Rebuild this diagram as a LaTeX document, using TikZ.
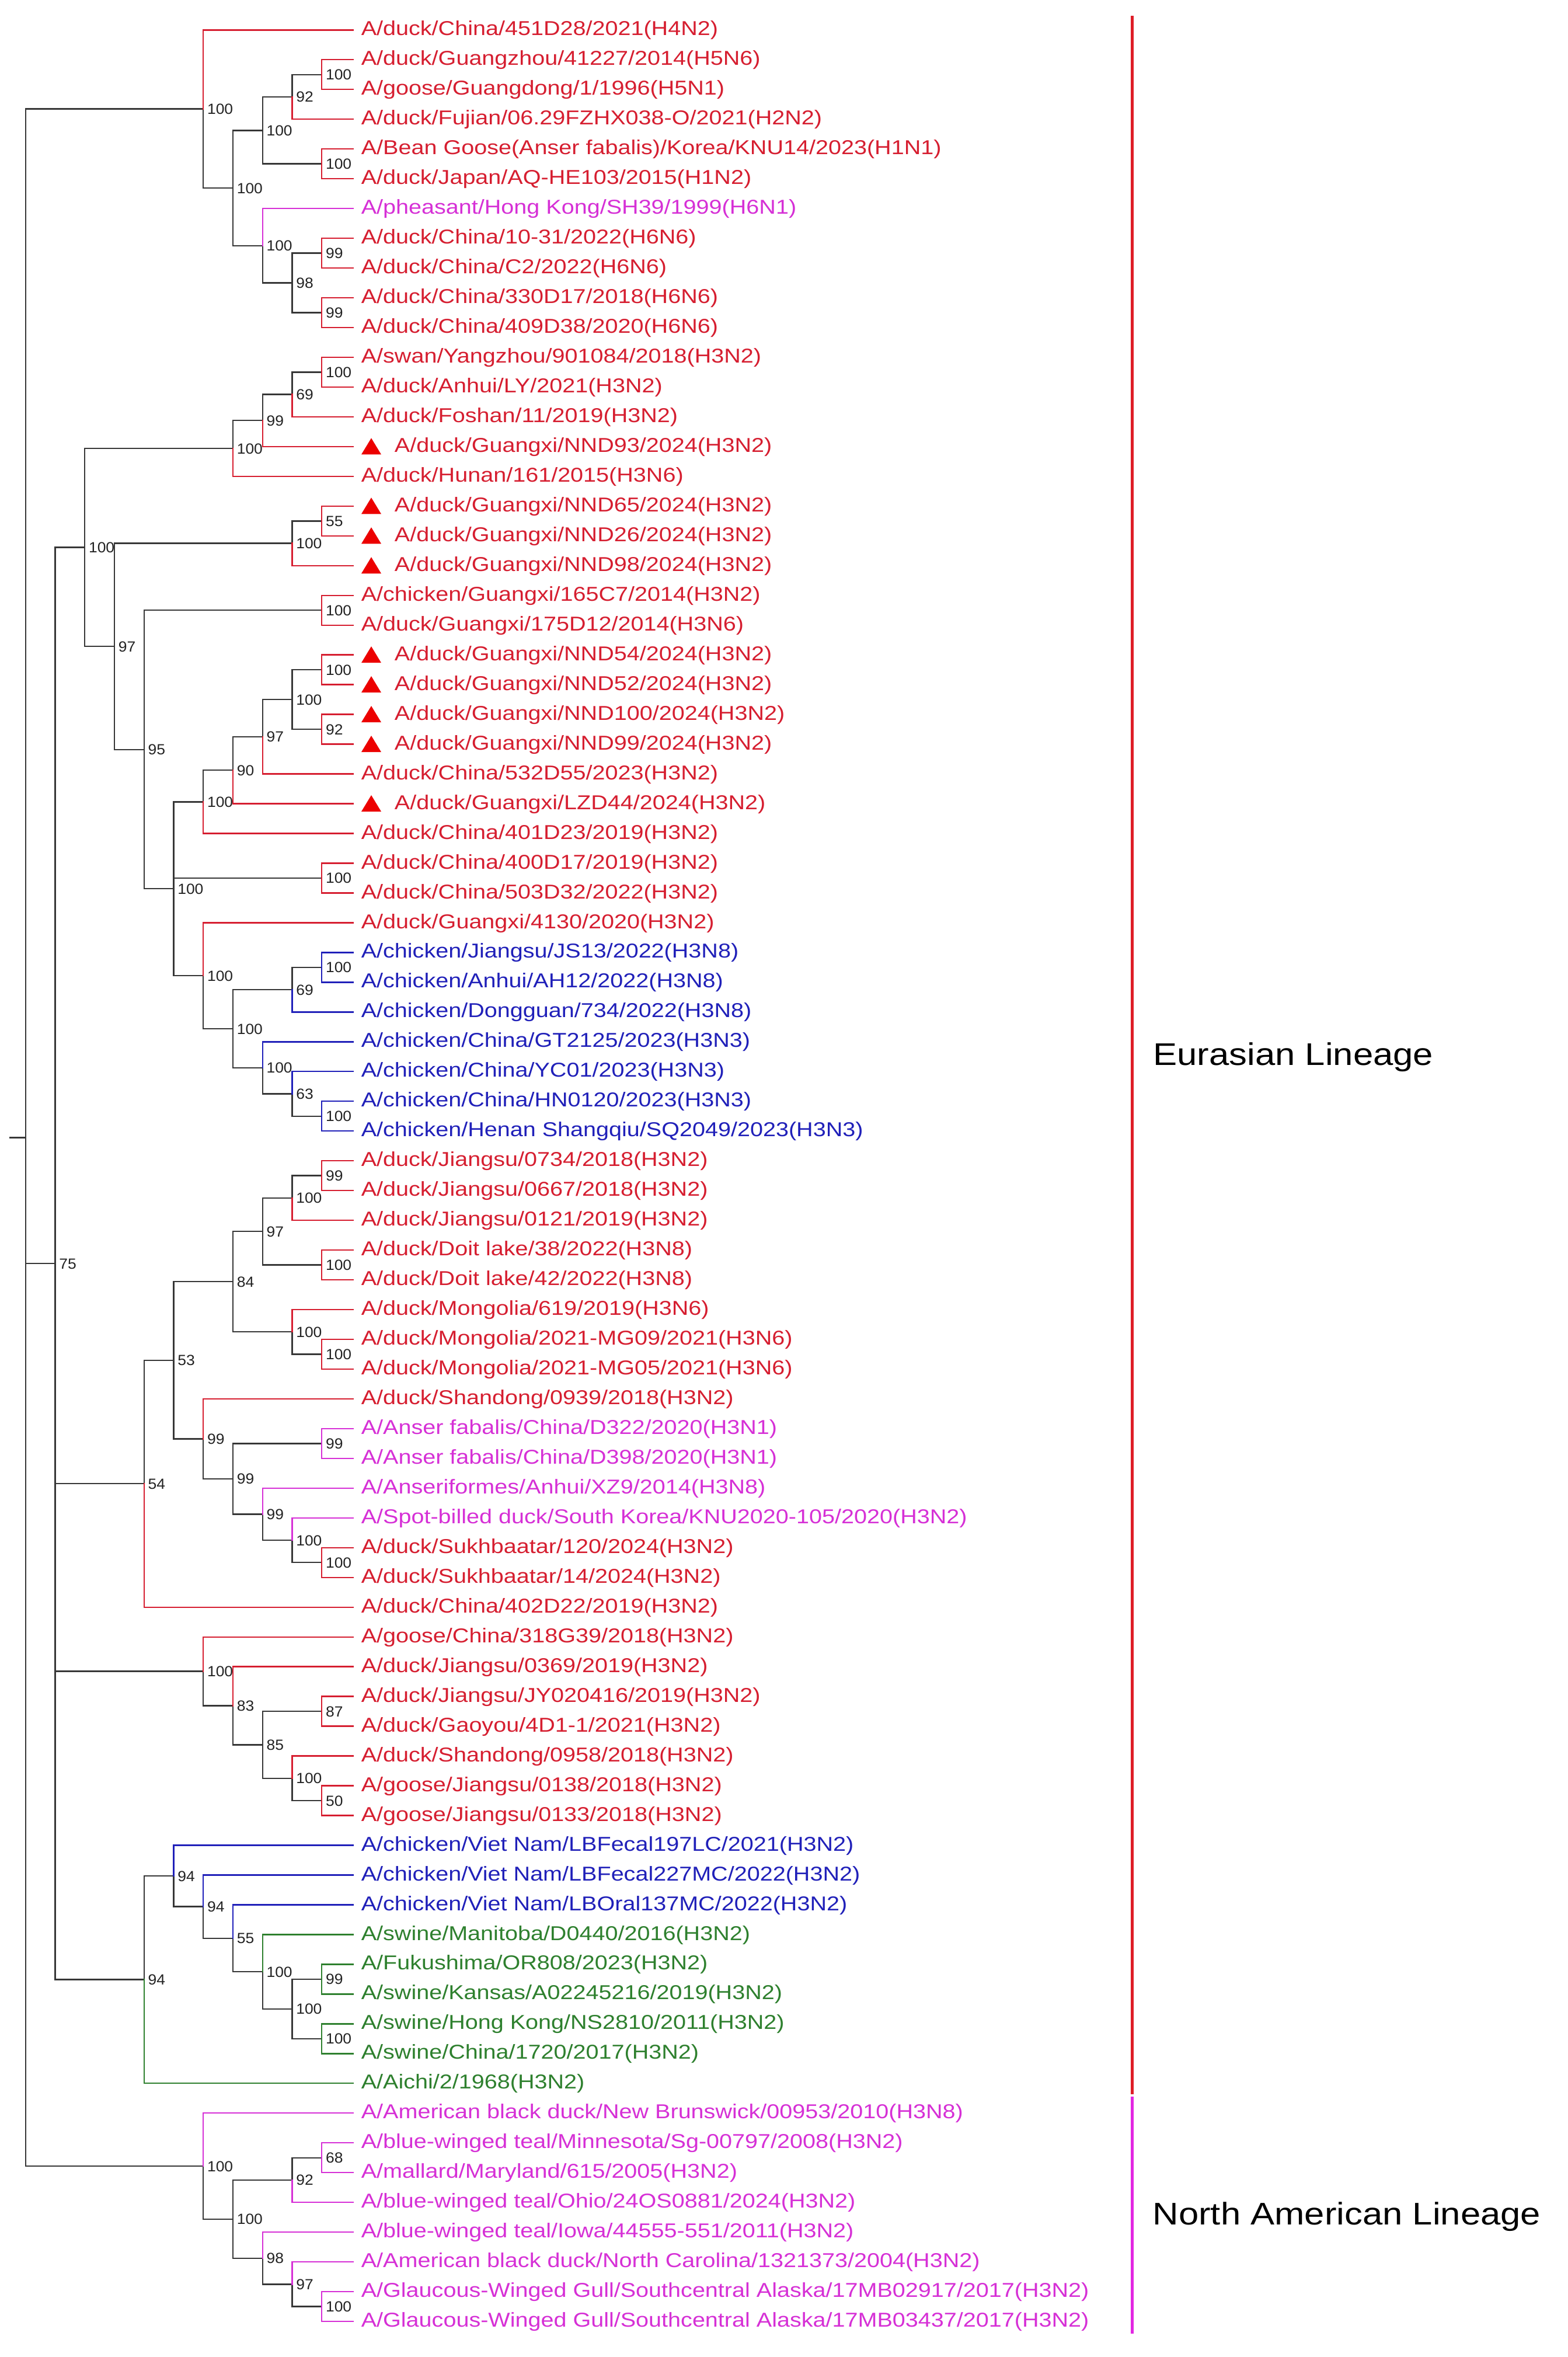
\documentclass[tikz,border=0pt]{standalone}
\usepackage{fontspec}
\setmainfont{Liberation Sans}
\newfontfamily\leaffont[FakeStretch=1.15]{Liberation Sans}
\newfontfamily\bsfont[FakeStretch=1.05]{Liberation Sans}
\definecolor{cred}{RGB}{214,30,48}
\definecolor{cmag}{RGB}{214,48,214}
\definecolor{cblue}{RGB}{32,32,185}
\definecolor{cgreen}{RGB}{46,128,46}
\definecolor{cblk}{RGB}{55,55,55}
\definecolor{bstext}{RGB}{35,35,35}
\definecolor{tred}{RGB}{236,0,0}
\definecolor{barred}{RGB}{222,30,40}
\definecolor{barmag}{RGB}{226,40,226}
\tikzset{
  br/.style={line width=0.6pt, line cap=rect},
  lf/.style={anchor=base west, inner sep=0pt, yshift=-2.4pt, font=\leaffont\fontsize{8.6}{10}\selectfont},
  bs/.style={anchor=base west, inner sep=0pt, xshift=1.5pt, yshift=-2.25pt, text=bstext, font=\bsfont\fontsize{6.3}{7}\selectfont},
  tri/.style={fill=tred},
  lin/.style={anchor=base west, inner sep=0pt, font=\leaffont\fontsize{13.4}{15}\selectfont, text=black},
  linbar/.style={line width=1.2pt}
}
\newcommand\myleaf[3]{\coordinate (t#1) at (11.06,#1); \node[lf,text=#2] (l#1) at (11.315,#1) {#3};}
\newcommand\mytleaf[3]{\coordinate (t#1) at (11.06,#1); \fill[tri] ({11.335},{#1+0.265}) -- ({11.67},{#1-0.285}) -- ({12.005},{#1+0.265}) -- cycle; \node[lf,text=#2] (l#1) at (12.44,#1) {#3};}
\newcommand\inode[4]{\coordinate (#1) at (#2,#3); \node[bs] (b#1) at (#1) {#4};}
\newcommand\mybr[3]{\draw[br,#1] (#2) |- (#3);}
\begin{document}
\begin{tikzpicture}[x=12.6875pt, y=-12.7425pt]
\fill[white] (-0.8621,-0.0065) rectangle (52.064,79.197);
\useasboundingbox (-0.8621,-0.0065) rectangle (52.064,79.197);

% leaves
\myleaf{1}{cred}{A/duck/China/451D28/2021(H4N2)}
\myleaf{2}{cred}{A/duck/Guangzhou/41227/2014(H5N6)}
\myleaf{3}{cred}{A/goose/Guangdong/1/1996(H5N1)}
\myleaf{4}{cred}{A/duck/Fujian/06.29FZHX038-O/2021(H2N2)}
\myleaf{5}{cred}{A/Bean Goose(Anser fabalis)/Korea/KNU14/2023(H1N1)}
\myleaf{6}{cred}{A/duck/Japan/AQ-HE103/2015(H1N2)}
\myleaf{7}{cmag}{A/pheasant/Hong Kong/SH39/1999(H6N1)}
\myleaf{8}{cred}{A/duck/China/10-31/2022(H6N6)}
\myleaf{9}{cred}{A/duck/China/C2/2022(H6N6)}
\myleaf{10}{cred}{A/duck/China/330D17/2018(H6N6)}
\myleaf{11}{cred}{A/duck/China/409D38/2020(H6N6)}
\myleaf{12}{cred}{A/swan/Yangzhou/901084/2018(H3N2)}
\myleaf{13}{cred}{A/duck/Anhui/LY/2021(H3N2)}
\myleaf{14}{cred}{A/duck/Foshan/11/2019(H3N2)}
\mytleaf{15}{cred}{A/duck/Guangxi/NND93/2024(H3N2)}
\myleaf{16}{cred}{A/duck/Hunan/161/2015(H3N6)}
\mytleaf{17}{cred}{A/duck/Guangxi/NND65/2024(H3N2)}
\mytleaf{18}{cred}{A/duck/Guangxi/NND26/2024(H3N2)}
\mytleaf{19}{cred}{A/duck/Guangxi/NND98/2024(H3N2)}
\myleaf{20}{cred}{A/chicken/Guangxi/165C7/2014(H3N2)}
\myleaf{21}{cred}{A/duck/Guangxi/175D12/2014(H3N6)}
\mytleaf{22}{cred}{A/duck/Guangxi/NND54/2024(H3N2)}
\mytleaf{23}{cred}{A/duck/Guangxi/NND52/2024(H3N2)}
\mytleaf{24}{cred}{A/duck/Guangxi/NND100/2024(H3N2)}
\mytleaf{25}{cred}{A/duck/Guangxi/NND99/2024(H3N2)}
\myleaf{26}{cred}{A/duck/China/532D55/2023(H3N2)}
\mytleaf{27}{cred}{A/duck/Guangxi/LZD44/2024(H3N2)}
\myleaf{28}{cred}{A/duck/China/401D23/2019(H3N2)}
\myleaf{29}{cred}{A/duck/China/400D17/2019(H3N2)}
\myleaf{30}{cred}{A/duck/China/503D32/2022(H3N2)}
\myleaf{31}{cred}{A/duck/Guangxi/4130/2020(H3N2)}
\myleaf{32}{cblue}{A/chicken/Jiangsu/JS13/2022(H3N8)}
\myleaf{33}{cblue}{A/chicken/Anhui/AH12/2022(H3N8)}
\myleaf{34}{cblue}{A/chicken/Dongguan/734/2022(H3N8)}
\myleaf{35}{cblue}{A/chicken/China/GT2125/2023(H3N3)}
\myleaf{36}{cblue}{A/chicken/China/YC01/2023(H3N3)}
\myleaf{37}{cblue}{A/chicken/China/HN0120/2023(H3N3)}
\myleaf{38}{cblue}{A/chicken/Henan Shangqiu/SQ2049/2023(H3N3)}
\myleaf{39}{cred}{A/duck/Jiangsu/0734/2018(H3N2)}
\myleaf{40}{cred}{A/duck/Jiangsu/0667/2018(H3N2)}
\myleaf{41}{cred}{A/duck/Jiangsu/0121/2019(H3N2)}
\myleaf{42}{cred}{A/duck/Doit lake/38/2022(H3N8)}
\myleaf{43}{cred}{A/duck/Doit lake/42/2022(H3N8)}
\myleaf{44}{cred}{A/duck/Mongolia/619/2019(H3N6)}
\myleaf{45}{cred}{A/duck/Mongolia/2021-MG09/2021(H3N6)}
\myleaf{46}{cred}{A/duck/Mongolia/2021-MG05/2021(H3N6)}
\myleaf{47}{cred}{A/duck/Shandong/0939/2018(H3N2)}
\myleaf{48}{cmag}{A/Anser fabalis/China/D322/2020(H3N1)}
\myleaf{49}{cmag}{A/Anser fabalis/China/D398/2020(H3N1)}
\myleaf{50}{cmag}{A/Anseriformes/Anhui/XZ9/2014(H3N8)}
\myleaf{51}{cmag}{A/Spot-billed duck/South Korea/KNU2020-105/2020(H3N2)}
\myleaf{52}{cred}{A/duck/Sukhbaatar/120/2024(H3N2)}
\myleaf{53}{cred}{A/duck/Sukhbaatar/14/2024(H3N2)}
\myleaf{54}{cred}{A/duck/China/402D22/2019(H3N2)}
\myleaf{55}{cred}{A/goose/China/318G39/2018(H3N2)}
\myleaf{56}{cred}{A/duck/Jiangsu/0369/2019(H3N2)}
\myleaf{57}{cred}{A/duck/Jiangsu/JY020416/2019(H3N2)}
\myleaf{58}{cred}{A/duck/Gaoyou/4D1-1/2021(H3N2)}
\myleaf{59}{cred}{A/duck/Shandong/0958/2018(H3N2)}
\myleaf{60}{cred}{A/goose/Jiangsu/0138/2018(H3N2)}
\myleaf{61}{cred}{A/goose/Jiangsu/0133/2018(H3N2)}
\myleaf{62}{cblue}{A/chicken/Viet Nam/LBFecal197LC/2021(H3N2)}
\myleaf{63}{cblue}{A/chicken/Viet Nam/LBFecal227MC/2022(H3N2)}
\myleaf{64}{cblue}{A/chicken/Viet Nam/LBOral137MC/2022(H3N2)}
\myleaf{65}{cgreen}{A/swine/Manitoba/D0440/2016(H3N2)}
\myleaf{66}{cgreen}{A/Fukushima/OR808/2023(H3N2)}
\myleaf{67}{cgreen}{A/swine/Kansas/A02245216/2019(H3N2)}
\myleaf{68}{cgreen}{A/swine/Hong Kong/NS2810/2011(H3N2)}
\myleaf{69}{cgreen}{A/swine/China/1720/2017(H3N2)}
\myleaf{70}{cgreen}{A/Aichi/2/1968(H3N2)}
\myleaf{71}{cmag}{A/American black duck/New Brunswick/00953/2010(H3N8)}
\myleaf{72}{cmag}{A/blue-winged teal/Minnesota/Sg-00797/2008(H3N2)}
\myleaf{73}{cmag}{A/mallard/Maryland/615/2005(H3N2)}
\myleaf{74}{cmag}{A/blue-winged teal/Ohio/24OS0881/2024(H3N2)}
\myleaf{75}{cmag}{A/blue-winged teal/Iowa/44555-551/2011(H3N2)}
\myleaf{76}{cmag}{A/American black duck/North Carolina/1321373/2004(H3N2)}
\myleaf{77}{cmag}{A/Glaucous-Winged Gull/Southcentral Alaska/17MB02917/2017(H3N2)}
\myleaf{78}{cmag}{A/Glaucous-Winged Gull/Southcentral Alaska/17MB03437/2017(H3N2)}

% internal node positions
\coordinate (R) at (0,38.21875);
\coordinate (rs) at (-0.527,38.21875);
\coordinate (a6) at (6,3.65625);
\coordinate (a7) at (7,6.3125);
\coordinate (a8) at (8,4.375);
\coordinate (a9) at (9,3.25);
\coordinate (a10) at (10,2.5);
\coordinate (a10b) at (10,5.5);
\coordinate (b8) at (8,8.25);
\coordinate (b9) at (9,9.5);
\coordinate (b10) at (10,8.5);
\coordinate (b10b) at (10,10.5);
\coordinate (z1) at (1,42.4521484);
\coordinate (c2) at (2,18.388671875);
\coordinate (c7) at (7,15.0625);
\coordinate (c8) at (8,14.125);
\coordinate (c9) at (9,13.25);
\coordinate (c10) at (10,12.5);
\coordinate (g3) at (3,21.71484375);
\coordinate (g9) at (9,18.25);
\coordinate (g10) at (10,17.5);
\coordinate (h4) at (4,25.1796875);
\coordinate (h10) at (10,20.5);
\coordinate (k5) at (5,29.859375);
\coordinate (k6) at (6,26.9375);
\coordinate (k7) at (7,25.875);
\coordinate (k8) at (8,24.75);
\coordinate (k9) at (9,23.5);
\coordinate (k10) at (10,22.5);
\coordinate (k10b) at (10,24.5);
\coordinate (m10) at (10,29.5);
\coordinate (p6) at (6,32.78125);
\coordinate (p7) at (7,34.5625);
\coordinate (p9) at (9,33.25);
\coordinate (p10) at (10,32.5);
\coordinate (q8) at (8,35.875);
\coordinate (q9) at (9,36.75);
\coordinate (q10) at (10,37.5);
\coordinate (d4) at (4,49.8515625);
\coordinate (d5) at (5,45.703125);
\coordinate (r7) at (7,43.0625);
\coordinate (r8) at (8,41.375);
\coordinate (r9) at (9,40.25);
\coordinate (r10) at (10,39.5);
\coordinate (r10b) at (10,42.5);
\coordinate (s9) at (9,44.75);
\coordinate (s10) at (10,45.5);
\coordinate (u6) at (6,48.34375);
\coordinate (u7) at (7,49.6875);
\coordinate (u8) at (8,50.875);
\coordinate (u9) at (9,51.75);
\coordinate (u10) at (10,48.5);
\coordinate (u10b) at (10,52.5);
\coordinate (e6) at (6,56.15625);
\coordinate (e7) at (7,57.3125);
\coordinate (e8) at (8,58.625);
\coordinate (e9) at (9,59.75);
\coordinate (e10) at (10,57.5);
\coordinate (e10b) at (10,60.5);
\coordinate (f4) at (4,66.515625);
\coordinate (f5) at (5,63.03125);
\coordinate (f6) at (6,64.0625);
\coordinate (f7) at (7,65.125);
\coordinate (f8) at (8,66.25);
\coordinate (f9) at (9,67.5);
\coordinate (f10) at (10,66.5);
\coordinate (f10b) at (10,68.5);
\coordinate (na6) at (6,72.78125);
\coordinate (na7) at (7,74.5625);
\coordinate (na8) at (8,75.875);
\coordinate (na9) at (9,73.25);
\coordinate (na9b) at (9,76.75);
\coordinate (na10) at (10,72.5);
\coordinate (na10b) at (10,77.5);

% black internal branches
\draw[br,cblk] (rs) -- (R);
\mybr{cblk}{R}{a6} \mybr{cblk}{R}{z1} \mybr{cblk}{R}{na6}
\mybr{cblk}{a6}{a7} \mybr{cblk}{a7}{a8} \mybr{cblk}{a7}{b8}
\mybr{cblk}{a8}{a9} \mybr{cblk}{a8}{a10b} \mybr{cblk}{a9}{a10}
\mybr{cblk}{b8}{b9} \mybr{cblk}{b9}{b10} \mybr{cblk}{b9}{b10b}
\mybr{cblk}{z1}{c2} \mybr{cblk}{z1}{d4} \mybr{cblk}{z1}{e6} \mybr{cblk}{z1}{f4}
\mybr{cblk}{c2}{c7} \mybr{cblk}{c2}{g3}
\mybr{cblk}{c7}{c8} \mybr{cblk}{c8}{c9} \mybr{cblk}{c9}{c10}
\mybr{cblk}{g3}{g9} \mybr{cblk}{g3}{h4} \mybr{cblk}{g9}{g10}
\mybr{cblk}{h4}{h10} \mybr{cblk}{h4}{k5}
\mybr{cblk}{k5}{k6} \mybr{cblk}{k5}{m10} \mybr{cblk}{k5}{p6}
\mybr{cblk}{k6}{k7} \mybr{cblk}{k7}{k8} \mybr{cblk}{k8}{k9}
\mybr{cblk}{k9}{k10} \mybr{cblk}{k9}{k10b}
\mybr{cblk}{p6}{p7} \mybr{cblk}{p7}{p9} \mybr{cblk}{p7}{q8}
\mybr{cblk}{p9}{p10} \mybr{cblk}{q8}{q9} \mybr{cblk}{q9}{q10}
\mybr{cblk}{d4}{d5} \mybr{cblk}{d5}{r7} \mybr{cblk}{d5}{u6}
\mybr{cblk}{r7}{r8} \mybr{cblk}{r7}{s9} \mybr{cblk}{r8}{r9} \mybr{cblk}{r8}{r10b}
\mybr{cblk}{r9}{r10} \mybr{cblk}{s9}{s10}
\mybr{cblk}{u6}{u7} \mybr{cblk}{u7}{u10} \mybr{cblk}{u7}{u8}
\mybr{cblk}{u8}{u9} \mybr{cblk}{u9}{u10b}
\mybr{cblk}{e6}{e7} \mybr{cblk}{e7}{e8} \mybr{cblk}{e8}{e10} \mybr{cblk}{e8}{e9}
\mybr{cblk}{e9}{e10b}
\mybr{cblk}{f4}{f5} \mybr{cblk}{f5}{f6} \mybr{cblk}{f6}{f7} \mybr{cblk}{f7}{f8}
\mybr{cblk}{f8}{f9} \mybr{cblk}{f9}{f10} \mybr{cblk}{f9}{f10b}
\mybr{cblk}{na6}{na7} \mybr{cblk}{na7}{na9} \mybr{cblk}{na7}{na8}
\mybr{cblk}{na9}{na10} \mybr{cblk}{na8}{na9b} \mybr{cblk}{na9b}{na10b}

% coloured leaf branches
\mybr{cred}{a6}{t1} \mybr{cred}{a10}{t2} \mybr{cred}{a10}{t3} \mybr{cred}{a9}{t4}
\mybr{cred}{a10b}{t5} \mybr{cred}{a10b}{t6} \mybr{cmag}{b8}{t7}
\mybr{cred}{b10}{t8} \mybr{cred}{b10}{t9} \mybr{cred}{b10b}{t10} \mybr{cred}{b10b}{t11}
\mybr{cred}{c10}{t12} \mybr{cred}{c10}{t13} \mybr{cred}{c9}{t14} \mybr{cred}{c8}{t15}
\mybr{cred}{c7}{t16} \mybr{cred}{g10}{t17} \mybr{cred}{g10}{t18} \mybr{cred}{g9}{t19}
\mybr{cred}{h10}{t20} \mybr{cred}{h10}{t21}
\mybr{cred}{k10}{t22} \mybr{cred}{k10}{t23} \mybr{cred}{k10b}{t24} \mybr{cred}{k10b}{t25}
\mybr{cred}{k8}{t26} \mybr{cred}{k7}{t27} \mybr{cred}{k6}{t28}
\mybr{cred}{m10}{t29} \mybr{cred}{m10}{t30} \mybr{cred}{p6}{t31}
\mybr{cblue}{p10}{t32} \mybr{cblue}{p10}{t33} \mybr{cblue}{p9}{t34}
\mybr{cblue}{q8}{t35} \mybr{cblue}{q9}{t36} \mybr{cblue}{q10}{t37} \mybr{cblue}{q10}{t38}
\mybr{cred}{r10}{t39} \mybr{cred}{r10}{t40} \mybr{cred}{r9}{t41}
\mybr{cred}{r10b}{t42} \mybr{cred}{r10b}{t43} \mybr{cred}{s9}{t44}
\mybr{cred}{s10}{t45} \mybr{cred}{s10}{t46} \mybr{cred}{u6}{t47}
\mybr{cmag}{u10}{t48} \mybr{cmag}{u10}{t49} \mybr{cmag}{u8}{t50} \mybr{cmag}{u9}{t51}
\mybr{cred}{u10b}{t52} \mybr{cred}{u10b}{t53} \mybr{cred}{d4}{t54}
\mybr{cred}{e6}{t55} \mybr{cred}{e7}{t56} \mybr{cred}{e10}{t57} \mybr{cred}{e10}{t58}
\mybr{cred}{e9}{t59} \mybr{cred}{e10b}{t60} \mybr{cred}{e10b}{t61}
\mybr{cblue}{f5}{t62} \mybr{cblue}{f6}{t63} \mybr{cblue}{f7}{t64}
\mybr{cgreen}{f8}{t65} \mybr{cgreen}{f10}{t66} \mybr{cgreen}{f10}{t67}
\mybr{cgreen}{f10b}{t68} \mybr{cgreen}{f10b}{t69} \mybr{cgreen}{f4}{t70}
\mybr{cmag}{na6}{t71} \mybr{cmag}{na10}{t72} \mybr{cmag}{na10}{t73} \mybr{cmag}{na9}{t74}
\mybr{cmag}{na8}{t75} \mybr{cmag}{na9b}{t76} \mybr{cmag}{na10b}{t77} \mybr{cmag}{na10b}{t78}

% bootstrap labels
\node[bs] (ba6) at (a6) {100};
\node[bs] (ba7) at (a7) {100};
\node[bs] (ba8) at (a8) {100};
\node[bs] (ba9) at (a9) {92};
\node[bs] (ba10) at (a10) {100};
\node[bs] (ba10b) at (a10b) {100};
\node[bs] (bb8) at (b8) {100};
\node[bs] (bb9) at (b9) {98};
\node[bs] (bb10) at (b10) {99};
\node[bs] (bb10b) at (b10b) {99};
\node[bs] (bz1) at (z1) {75};
\node[bs] (bc2) at (c2) {100};
\node[bs] (bc7) at (c7) {100};
\node[bs] (bc8) at (c8) {99};
\node[bs] (bc9) at (c9) {69};
\node[bs] (bc10) at (c10) {100};
\node[bs] (bg3) at (g3) {97};
\node[bs] (bg9) at (g9) {100};
\node[bs] (bg10) at (g10) {55};
\node[bs] (bh4) at (h4) {95};
\node[bs] (bh10) at (h10) {100};
\node[bs] (bk5) at (k5) {100};
\node[bs] (bk6) at (k6) {100};
\node[bs] (bk7) at (k7) {90};
\node[bs] (bk8) at (k8) {97};
\node[bs] (bk9) at (k9) {100};
\node[bs] (bk10) at (k10) {100};
\node[bs] (bk10b) at (k10b) {92};
\node[bs] (bm10) at (m10) {100};
\node[bs] (bp6) at (p6) {100};
\node[bs] (bp7) at (p7) {100};
\node[bs] (bp9) at (p9) {69};
\node[bs] (bp10) at (p10) {100};
\node[bs] (bq8) at (q8) {100};
\node[bs] (bq9) at (q9) {63};
\node[bs] (bq10) at (q10) {100};
\node[bs] (bd4) at (d4) {54};
\node[bs] (bd5) at (d5) {53};
\node[bs] (br7) at (r7) {84};
\node[bs] (br8) at (r8) {97};
\node[bs] (br9) at (r9) {100};
\node[bs] (br10) at (r10) {99};
\node[bs] (br10b) at (r10b) {100};
\node[bs] (bs9) at (s9) {100};
\node[bs] (bs10) at (s10) {100};
\node[bs] (bu6) at (u6) {99};
\node[bs] (bu7) at (u7) {99};
\node[bs] (bu8) at (u8) {99};
\node[bs] (bu9) at (u9) {100};
\node[bs] (bu10) at (u10) {99};
\node[bs] (bu10b) at (u10b) {100};
\node[bs] (be6) at (e6) {100};
\node[bs] (be7) at (e7) {83};
\node[bs] (be8) at (e8) {85};
\node[bs] (be9) at (e9) {100};
\node[bs] (be10) at (e10) {87};
\node[bs] (be10b) at (e10b) {50};
\node[bs] (bf4) at (f4) {94};
\node[bs] (bf5) at (f5) {94};
\node[bs] (bf6) at (f6) {94};
\node[bs] (bf7) at (f7) {55};
\node[bs] (bf8) at (f8) {100};
\node[bs] (bf9) at (f9) {100};
\node[bs] (bf10) at (f10) {99};
\node[bs] (bf10b) at (f10b) {100};
\node[bs] (bna6) at (na6) {100};
\node[bs] (bna7) at (na7) {100};
\node[bs] (bna8) at (na8) {98};
\node[bs] (bna9) at (na9) {92};
\node[bs] (bna9b) at (na9b) {97};
\node[bs] (bna10) at (na10) {68};
\node[bs] (bna10b) at (na10b) {100};

% lineage bars and labels
\coordinate (eu1) at (37.36,0.523);
\coordinate (eu2) at (37.36,70.37);
\coordinate (am1) at (37.36,70.45);
\coordinate (am2) at (37.36,78.42);
\draw[linbar,barred] (eu1) -- (eu2);
\draw[linbar,barmag] (am1) -- (am2);
\node[lin] (eur) at (38.05,35.78) {Eurasian Lineage};
\node[lin] (nam) at (38.03,74.76) {North American Lineage};
\end{tikzpicture}
\end{document}
